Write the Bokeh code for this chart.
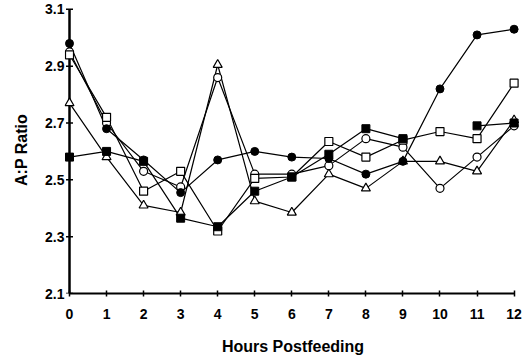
import numpy as np
from bokeh.plotting import figure
from bokeh.models import Range1d, FixedTicker
from bokeh.embed import file_html
from bokeh.resources import INLINE

hours = [0, 1, 2, 3, 4, 5, 6, 7, 8, 9, 10, 11, 12]
filled_circle = [2.98, 2.68, 2.57, 2.455, 2.57, 2.60, 2.58, 2.575, 2.52, 2.565, 2.82, 3.01, 3.03]
open_circle = [2.95, 2.70, 2.53, 2.475, 2.86, 2.52, 2.52, 2.55, 2.645, 2.615, 2.47, 2.58, 2.69]
filled_square = [2.58, 2.60, 2.565, 2.365, 2.335, 2.46, 2.51, 2.59, 2.68, 2.645, np.nan, 2.69, 2.70]
open_square = [2.94, 2.72, 2.46, 2.53, 2.32, 2.505, 2.51, 2.635, 2.58, 2.64, 2.67, 2.645, 2.84]
open_triangle = [2.77, 2.58, 2.41, 2.385, 2.905, 2.425, 2.385, 2.52, 2.47, 2.565, 2.565, 2.53, 2.71]

y_ticks = [2.1, 2.3, 2.5, 2.7, 2.9, 3.1]

p = figure(width=523, height=350, output_backend="svg", toolbar_location=None,
           x_range=Range1d(-0.135, 12.2), y_range=Range1d(2.1, 3.11),
           frame_width=457, frame_height=287,
           min_border_left=64, min_border_top=6, min_border_right=2)
p.outline_line_color = None
p.xgrid.visible = False
p.ygrid.visible = False
p.background_fill_color = "white"

FONT = "Liberation Sans"

def style_axis(ax):
    ax.axis_line_color = "black"
    ax.major_tick_line_color = "black"
    ax.minor_tick_line_color = None
    ax.major_label_text_font = FONT
    ax.major_label_text_font_style = "bold"
    ax.major_label_text_font_size = "14px"
    ax.major_label_text_color = "black"
    ax.axis_label_text_font = FONT
    ax.axis_label_text_font_style = "bold"
    ax.axis_label_text_font_size = "16px"
    ax.axis_label_text_color = "black"

xa = p.xaxis[0]
ya = p.yaxis[0]
style_axis(xa)
style_axis(ya)
xa.ticker = FixedTicker(ticks=hours)
ya.ticker = FixedTicker(ticks=y_ticks)
ya.major_label_overrides = {t: f"{t:.1f}" for t in y_ticks}
xa.bounds = (0, 12)
xa.axis_line_width = 2
xa.major_tick_line_width = 1.5
xa.major_tick_in = 3
xa.major_tick_out = 3
xa.major_label_standoff = 12
xa.axis_label = "Hours Postfeeding"
xa.axis_label_standoff = 16

# y axis: labels from the axis, line and ticks drawn at x = 0
ya.axis_line_color = None
ya.major_tick_line_color = None
ya.major_tick_in = 0
ya.major_tick_out = 0
ya.major_label_standoff = 0
ya.axis_label = "A:P Ratio"
ya.axis_label_standoff = 12

p.segment(x0=[hours[0]], y0=[y_ticks[0]], x1=[hours[0]], y1=[y_ticks[-1]],
          line_color="black", line_width=2.5)
p.scatter([hours[0]] * len(y_ticks), y_ticks, marker="dash", size=7,
          line_color="black", line_width=1.5)

lw = 1.2
ms = 8
p.line(hours, open_triangle, line_color="black", line_width=lw)
p.line(hours, open_circle, line_color="black", line_width=lw)
p.line(hours, open_square, line_color="black", line_width=lw)
p.line(hours, filled_square, line_color="black", line_width=lw)
p.line(hours, filled_circle, line_color="black", line_width=lw)

p.scatter(hours, open_triangle, marker="triangle", size=9, line_color="black",
          fill_color="white", line_width=1.2)
p.scatter(hours, open_circle, marker="circle", size=ms, line_color="black",
          fill_color="white", line_width=1.2)
p.scatter(hours, open_square, marker="square", size=ms, line_color="black",
          fill_color="white", line_width=1.2)
p.scatter(hours, filled_square, marker="square", size=ms, line_color="black",
          fill_color="black", line_width=1)
p.scatter(hours, filled_circle, marker="circle", size=ms, line_color="black",
          fill_color="black", line_width=1)

open("out.html", "w").write(file_html(p, INLINE))
